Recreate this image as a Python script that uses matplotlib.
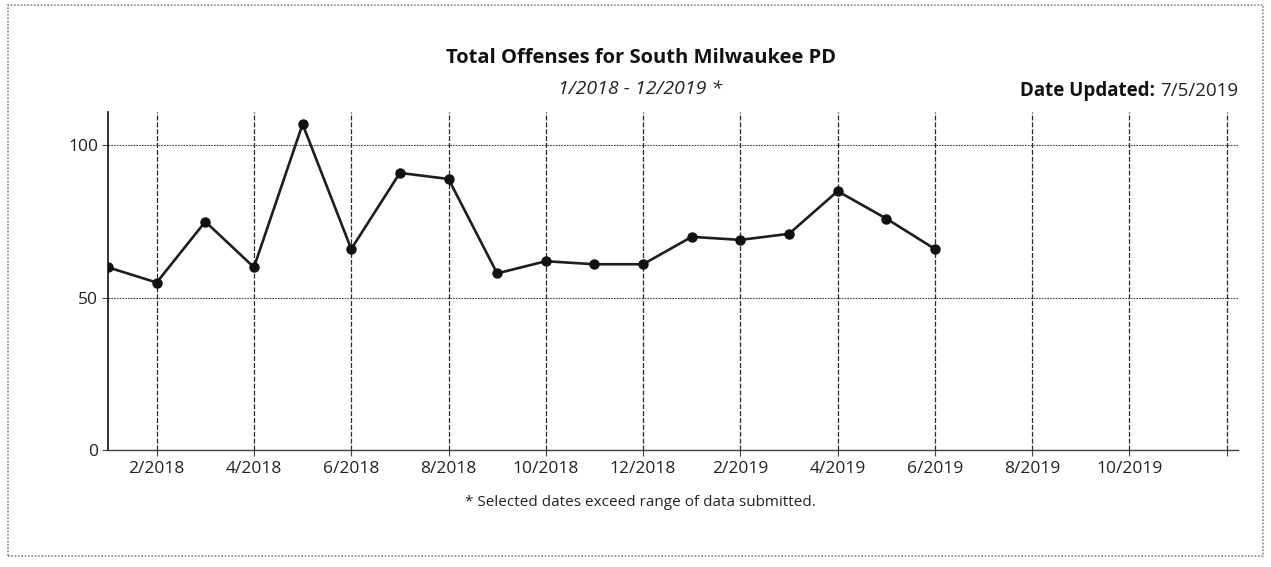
import matplotlib.pyplot as plt
from matplotlib.patches import Rectangle

plt.rcParams['font.family'] = ['Open Sans', 'DejaVu Sans']

# monthly totals, 1/2018 .. 6/2019
months = list(range(18))
offenses = [60, 55, 75, 60, 107, 66, 91, 89, 58, 62, 61, 61, 70, 69, 71, 85, 76, 66]

tick_pos = [1, 3, 5, 7, 9, 11, 13, 15, 17, 19, 21, 23]
tick_labels = ['2/2018', '4/2018', '6/2018', '8/2018', '10/2018', '12/2018',
               '2/2019', '4/2019', '6/2019', '8/2019', '10/2019', '']
y_ticks = [0, 50, 100]

fig = plt.figure(figsize=(12.71, 5.67), dpi=100)
ax = fig.add_axes([0.085, 0.2063, 0.889, 0.5962])

# scanned page frame
fig.patches.append(Rectangle((0.006, 0.02), 0.988, 0.972, transform=fig.transFigure,
                             fill=False, edgecolor='#888888', lw=1.2, ls=(0, (1, 1))))

ax.plot(months, offenses, color='#1e1e1e', lw=1.9, marker='o', markersize=6.5,
        markerfacecolor='#111111', markeredgecolor='#111111', zorder=3)

ax.set_xlim(0, 23.23)
ax.set_ylim(0, 111)
ax.set_xticks(tick_pos)
ax.set_xticklabels(tick_labels, fontsize=12.5, color='#222222')
ax.set_yticks(y_ticks)
ax.set_yticklabels([str(v) for v in y_ticks], fontsize=12.5, color='#222222')
ax.tick_params(axis='x', length=4, width=0.8, color='#444444', pad=4)
ax.tick_params(axis='y', length=4, width=0.8, color='#444444', pad=3)

ax.grid(True, axis='x', color='#2a2a2a', lw=0.9, ls=(0, (4, 1.5)))
ax.grid(True, axis='y', color='#444444', lw=0.8, ls=(0, (1.5, 1)))

for s in ['top', 'right']:
    ax.spines[s].set_visible(False)
ax.spines['left'].set_color('#222222')
ax.spines['left'].set_linewidth(1.3)
ax.spines['bottom'].set_color('#444444')
ax.spines['bottom'].set_linewidth(1.0)
ax.spines['bottom'].set_linestyle((0, (2, 1)))

fig.text(0.504, 0.897, 'Total Offenses for South Milwaukee PD', ha='center', va='center',
         fontsize=14.5, fontweight='bold', color='#111111')
fig.text(0.504, 0.843, '1/2018 - 12/2019 *', ha='center', va='center',
         fontsize=14, style='italic', color='#222222')
upd = fig.text(0.974, 0.840, '7/5/2019', ha='right', va='center', fontsize=13.5, color='#222222')

# bold label placed just left of the date value
fig.canvas.draw()
bb = upd.get_window_extent(fig.canvas.get_renderer())
fig.text(bb.x0 / fig.bbox.width, 0.840, 'Date Updated: ', ha='right', va='center',
         fontsize=13.5, fontweight='bold', color='#111111')

fig.text(0.504, 0.114, '* Selected dates exceed range of data submitted.', ha='center',
         va='center', fontsize=11, color='#222222')

fig.savefig('out.png', dpi=100)
